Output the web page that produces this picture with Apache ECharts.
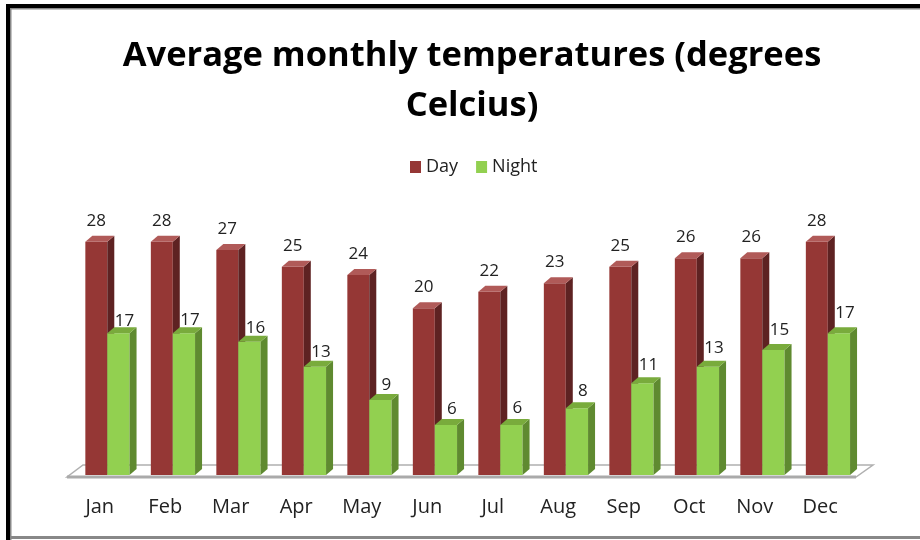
<!DOCTYPE html>
<html><head><meta charset="utf-8">
<script src="https://cdn.jsdelivr.net/npm/echarts@6/dist/echarts.min.js"></script>
<style>html,body{margin:0;padding:0;background:#fff}#c{width:920px;height:540px}</style>
</head><body><div id="c"></div>
<script>
const categories = ['Jan','Feb','Mar','Apr','May','Jun','Jul','Aug','Sep','Oct','Nov','Dec'];
const dayValues = [28,28,27,25,24,20,22,23,25,26,26,28];
const nightValues = [17,17,16,13,9,6,6,8,11,13,15,17];
const titleLines = ['Average monthly temperatures (degrees', 'Celcius)'];

const DX = 7, DY = -6;
const FONT = '"Open Sans", "DejaVu Sans", sans-serif';

function make3D(leftR, rightR, cFront, cSide, cTop, labelDx, labelDyFn) {
  return function (params, api) {
    const idx = api.value(0), v = api.value(1);
    const top = api.coord([idx, v]);
    const base = api.coord([idx, 0]);
    const w = api.size([1, 0])[0];
    const x0 = top[0] + leftR * w, x1 = top[0] + rightR * w;
    const y0 = base[1], y1 = top[1];
    return {
      type: 'group',
      children: [
        { type: 'rect', shape: { x: x0, y: y1, width: x1 - x0, height: y0 - y1 },
          style: { fill: cFront } },
        { type: 'polygon', shape: { points: [[x1, y1], [x1 + DX, y1 + DY], [x1 + DX, y0 + DY], [x1, y0]] },
          style: { fill: cSide } },
        { type: 'polygon', shape: { points: [[x0, y1], [x0 + DX, y1 + DY], [x1 + DX, y1 + DY], [x1, y1]] },
          style: { fill: cTop } },
        { type: 'text', style: { text: String(v), x: (x0 + x1) / 2 + labelDx, y: y1 - labelDyFn(idx),
          align: 'center', verticalAlign: 'middle', font: '17px ' + FONT, fill: '#222' } }
      ]
    };
  };
}

const chart = echarts.init(document.getElementById('c'), null, { renderer: 'canvas' });
chart.setOption({
  backgroundColor: '#fff',
  animation: false,
  title: {
    text: titleLines.join('\n'),
    left: 467, top: 26, textAlign: 'center',
    textStyle: { fontFamily: FONT, fontWeight: 'bold', fontSize: 34.5, lineHeight: 50, color: '#000' }
  },
  legend: {
    top: 153, left: 405,
    icon: 'rect', itemWidth: 11, itemHeight: 12, itemGap: 18,
    textStyle: { fontFamily: FONT, fontSize: 18, color: '#222' },
    data: ['Day', 'Night']
  },
  grid: { left: 67, right: 67, top: 225, bottom: 65 },
  xAxis: {
    type: 'category', data: categories,
    axisLine: { show: false }, axisTick: { show: false },
    axisLabel: { margin: 22, fontFamily: FONT, fontSize: 20, color: '#222' }
  },
  yAxis: { type: 'value', min: 0, max: 30, show: false, splitLine: { show: false } },
  graphic: [
    { type: 'polygon', z: 0, shape: { points: [[67, 477], [856, 477], [873, 465], [83, 465]] },
      style: { fill: '#fff', stroke: '#b0b0b0', lineWidth: 1.5 } },
    { type: 'line', z: 0, shape: { x1: 67, y1: 477, x2: 856, y2: 477 }, style: { stroke: '#aaa', lineWidth: 3 } },
    { type: 'rect', z: 100, shape: { x: 6, y: 4, width: 914, height: 4 }, style: { fill: '#000' } },
    { type: 'rect', z: 100, shape: { x: 6, y: 4, width: 4, height: 536 }, style: { fill: '#000' } },
    { type: 'rect', z: 100, shape: { x: 10, y: 8, width: 910, height: 1.5 }, style: { fill: '#888' } },
    { type: 'rect', z: 100, shape: { x: 10, y: 8, width: 1.5, height: 532 }, style: { fill: '#888' } },
    { type: 'rect', z: 100, shape: { x: 10, y: 536, width: 910, height: 3 }, style: { fill: '#888' } }
  ],
  series: [
    { name: 'Day', type: 'custom', z: 5, itemStyle: { color: '#953735' },
      encode: { x: 0, y: 1 },
      data: dayValues.map((v, i) => [i, v]),
      renderItem: make3D(-0.22, 0.115, '#953735', '#5e2222', '#b05a58', 0, () => 21) },
    { name: 'Night', type: 'custom', z: 6, itemStyle: { color: '#92d050' },
      encode: { x: 0, y: 1 },
      data: nightValues.map((v, i) => [i, v]),
      renderItem: make3D(0.115, 0.455, '#92d050', '#5f8a30', '#79ab3c', 6, (i) => 12 + i * 0.75) }
  ]
});
</script></body></html>
